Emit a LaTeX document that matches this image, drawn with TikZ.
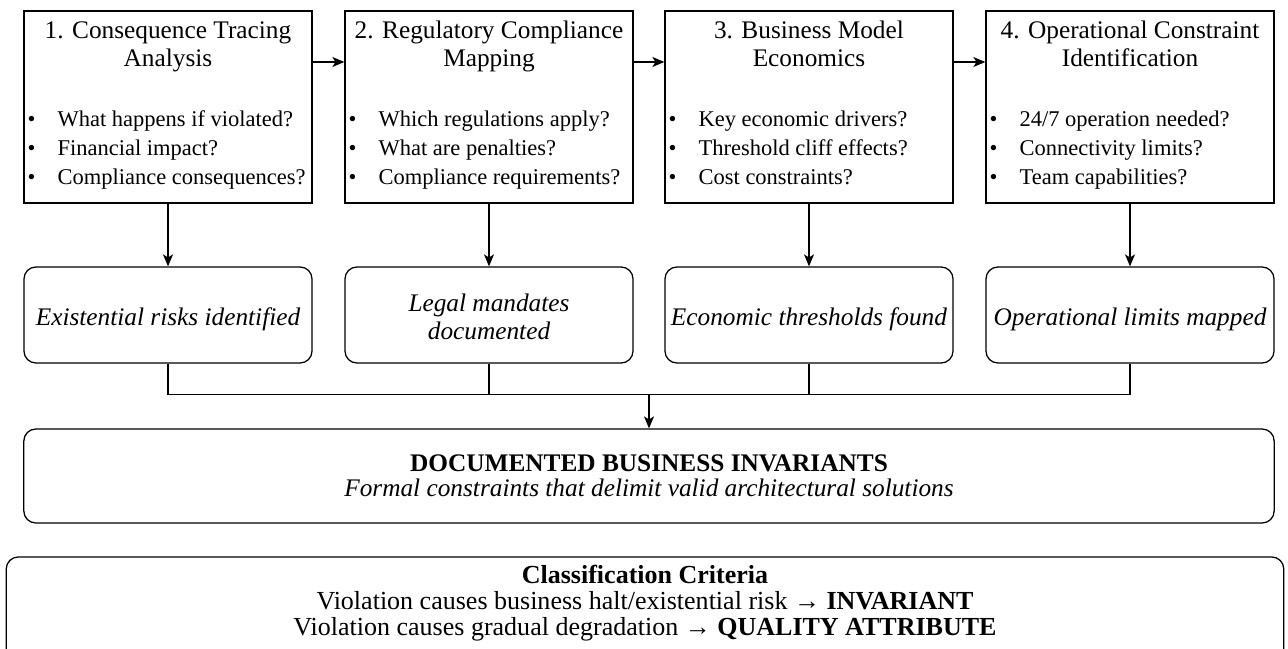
\documentclass[tikz,border=0pt]{standalone}
\usepackage{fontspec}
\setmainfont{Liberation Serif}
\usetikzlibrary{arrows.meta,positioning}
\newcommand{\bul}{
    \makebox[0.75cm][l]{\textbullet}\ignorespaces
}
\newcommand{\restext}[1]{
    \raisebox{-0.12cm}[\height][\depth]{\begin{tabular}{@{}c@{}}#1\end{tabular}}\ignorespaces
}

\begin{document}
\begin{tikzpicture}[x=0.025cm, y=-0.025cm,
    stepbox/.style={draw, line width=0.9pt, minimum width=7.2cm, minimum height=4.8cm},
    steptitle/.style={align=center, inner sep=0pt, font=\fontsize{18}{19.9}\selectfont},
    steplist/.style={align=left, inner sep=0pt, anchor=west, font=\fontsize{16}{20.6}\selectfont},
    resbox/.style={draw, line width=0.9pt, rounded corners=0.3cm, minimum width=7.2cm, minimum height=2.4cm, inner sep=0pt, font=\fontsize{18}{19.9}\selectfont\itshape},
    arr/.style={line width=0.9pt, -{Stealth[length=0.3cm, width=0.25cm, inset=0.08cm]}},
    link/.style={line width=0.9pt}]
    \useasboundingbox (0,0) rectangle (1288,649);

    % analysis steps
    \node[stepbox] (s1) at (168,107) {};
    \node[stepbox] (s2) at (489,107) {};
    \node[stepbox] (s3) at (809,107) {};
    \node[stepbox] (s4) at (1130,107) {};
    \node[steptitle] (t1) at ([shift={(0,37)}]s1.north) {\strut 1. Consequence Tracing\\\strut Analysis};
    \node[steptitle] (t2) at ([shift={(0,37)}]s2.north) {\strut 2. Regulatory Compliance\\\strut Mapping};
    \node[steptitle] (t3) at ([shift={(0,37)}]s3.north) {\strut 3. Business Model\\\strut Economics};
    \node[steptitle] (t4) at ([shift={(0,37)}]s4.north) {\strut 4. Operational Constraint\\\strut Identification};
    \node[steplist] (l1) at ([shift={(4,139)}]s1.north west) {
        \bul What happens if violated?\strut\\
        \bul Financial impact?\strut\\
        \bul Compliance consequences?\strut};
    \node[steplist] (l2) at ([shift={(4,139)}]s2.north west) {
        \bul Which regulations apply?\strut\\
        \bul What are penalties?\strut\\
        \bul Compliance requirements?\strut};
    \node[steplist] (l3) at ([shift={(4,139)}]s3.north west) {
        \bul Key economic drivers?\strut\\
        \bul Threshold cliff effects?\strut\\
        \bul Cost constraints?\strut};
    \node[steplist] (l4) at ([shift={(4,139)}]s4.north west) {
        \bul 24/7 operation needed?\strut\\
        \bul Connectivity limits?\strut\\
        \bul Team capabilities?\strut};
    \draw[arr] ([shift={(0,-45)}]s1.east) -- ([shift={(0,-45)}]s2.west);
    \draw[arr] ([shift={(0,-45)}]s2.east) -- ([shift={(0,-45)}]s3.west);
    \draw[arr] ([shift={(0,-45)}]s3.east) -- ([shift={(0,-45)}]s4.west);

    % results of each step
    \node[resbox] (r1) at (168,315) {\restext{Existential risks identified}};
    \node[resbox] (r2) at (489,315) {\restext{Legal mandates\\documented}};
    \node[resbox] (r3) at (809,315) {\restext{Economic thresholds found}};
    \node[resbox] (r4) at (1130,315) {\restext{Operational limits mapped}};
    \foreach \i in {1,...,4}{
        \draw[arr] (s\i.south) -- (r\i.north);
    }

    % invariants
    \node[draw, line width=0.9pt, rounded corners=0.3cm, minimum width=31.25cm, minimum height=2.35cm, align=center, font=\fontsize{18}{17.8}\selectfont] (inv) at (649,476) {\textbf{DOCUMENTED BUSINESS INVARIANTS}\\\textit{Formal constraints that delimit valid architectural solutions}};
    \coordinate (merge) at ([shift={(0,-34)}]inv.north);
    \draw[link] (r1.south) |- (merge) -| (r4.south);
    \draw[link] (r2.south) -- (r2.south |- merge);
    \draw[link] (r3.south) -- (r3.south |- merge);
    \draw[arr] (merge) -- (inv.north);

    % classification criteria
    \node[draw, line width=0.9pt, rounded corners=0.3cm, minimum width=31.93cm, minimum height=2.7cm] (cls) at (645,611) {};
    \node[align=center, font=\fontsize{18.5}{18.7}\selectfont] (clstxt) at (645,603) {\textbf{Classification Criteria}\\
        Violation causes business halt/existential risk → \textbf{INVARIANT}\\
        Violation causes gradual degradation → \textbf{QUALITY ATTRIBUTE}};
\end{tikzpicture}
\end{document}
